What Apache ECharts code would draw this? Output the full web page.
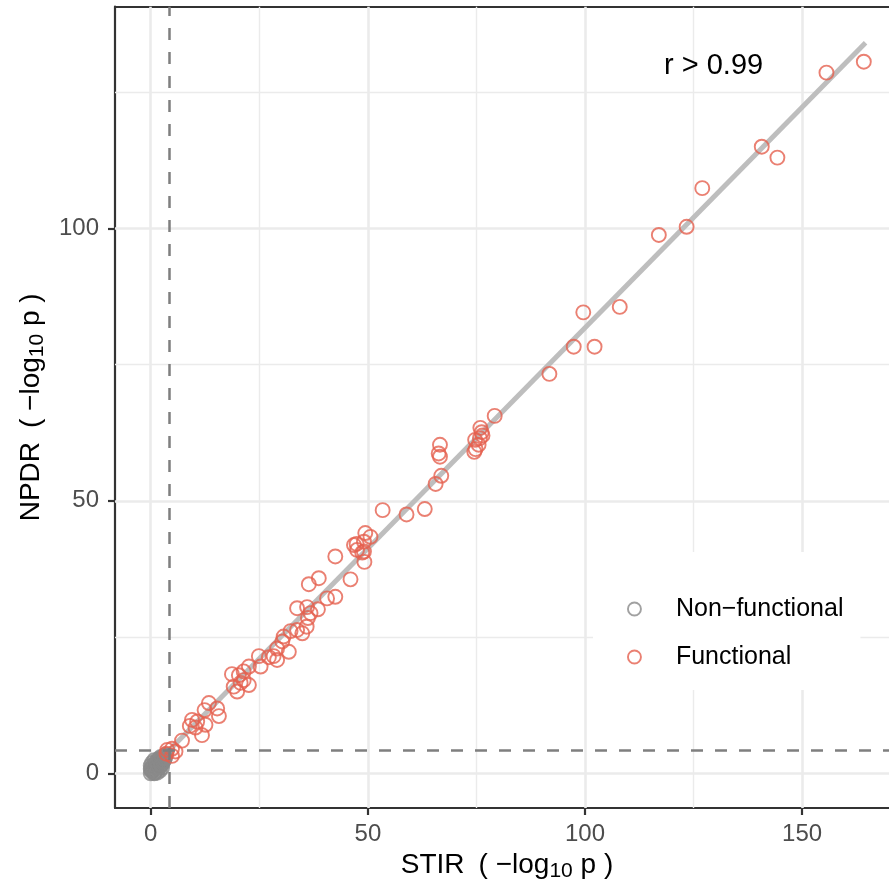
<!DOCTYPE html>
<html>
<head>
<meta charset="utf-8">
<script src="https://cdn.jsdelivr.net/npm/echarts@6/dist/echarts.min.js"></script>
<style>
html,body{margin:0;padding:0;background:#fff;}
#chart{width:889px;height:891px;}
</style>
</head>
<body>
<div id="chart"></div>
<script>
// ---- data ----
const seriesNames = ['Non\u2212functional', 'Functional'];
const nonFunctional = [
  [0.0,0.0],[0.8,0.0],[0.0,0.8],[0.3,0.3],[0.9,0.1],[0.1,0.6],[0.5,0.5],
  [1.5,0.1],[0.0,1.4],[0.7,0.7],[1.1,0.3],[0.3,1.1],[1.0,1.0],
  [2.1,0.5],[0.3,1.9],[1.2,1.2],[1.7,0.8],[0.7,1.6],[1.5,1.5],
  [2.6,1.0],[0.8,2.4],[1.7,1.7],[2.2,1.3],[1.2,2.1],[1.9,1.1],[1.4,1.9],[2.0,2.0],
  [2.7,1.8],[1.7,2.6],[2.2,2.2],[2.4,1.6],[2.0,2.5],[2.5,2.5],
  [3.1,2.4],[2.3,3.0],[2.7,2.7],[2.9,2.2],[2.5,2.9],[2.9,2.9],
  [3.1,3.1],[3.3,2.9],[3.2,2.7],[3.3,3.3],[3.5,3.4]
];
const functional = [
  [164.2,130.6],[155.6,128.6],[140.7,115.0],[144.3,113.0],[127.0,107.4],[123.4,100.3],[117.0,98.8],
  [108.0,85.6],[99.6,84.6],[97.4,78.3],[102.2,78.3],[91.8,73.3],
  [79.2,65.6],[75.9,63.4],[76.2,62.6],[76.4,62.0],[74.7,61.2],[75.8,61.5],[75.5,60.3],[74.8,59.5],[74.5,59.0],
  [66.6,60.3],[66.3,58.7],[66.6,58.1],[66.9,54.6],[65.6,53.1],[63.1,48.5],[58.9,47.5],[53.4,48.3],
  [49.4,44.1],[50.6,43.4],[49.1,42.5],[47.4,42.1],[46.8,41.9],[47.5,41.0],[49.1,40.7],[48.7,40.5],[49.2,38.8],
  [42.5,39.8],[46.0,35.6],[38.7,35.8],[36.4,34.7],[42.5,32.4],[40.6,32.1],
  [33.7,30.3],[36.0,30.5],[38.5,30.1],[36.8,29.4],[36.2,28.5],[35.9,26.9],[33.7,26.3],[34.9,25.7],
  [32.2,26.1],[30.6,25.1],[30.3,24.2],[31.8,22.3],[29.1,22.9],[28.3,21.5],[27.2,21.3],[29.1,20.8],
  [24.9,21.5],[25.3,19.6],[22.6,19.6],[21.4,18.7],[20.3,18.0],[18.7,18.2],
  [21.4,17.1],[19.1,15.9],[19.9,15.0],[22.6,16.2],[20.7,16.6],
  [13.4,12.9],[15.3,11.9],[15.7,10.5],[12.4,11.6],[9.5,9.8],[10.7,9.5],[9.0,8.7],[10.3,8.4],
  [11.8,7.0],[12.6,8.9],[7.2,6.0],
  [3.8,4.3],[4.9,4.5],[5.7,4.0],[4.9,3.2],[3.6,3.6]
];
const fitLine = [[0, 0.8], [164.6, 134.1]];
const threshold = 4.3;
const xTicks = [0, 50, 100, 150];
const xMinorGrid = [25, 75, 125];
const yTicks = [0, 50, 100];
const yMinorGrid = [25, 75, 125];
const annotation = 'r > 0.99';

// ---- chart ----
const FONT = '"Liberation Sans", Arial, Helvetica, sans-serif';
const RED = '#E5604F';
const GREY = '#8A8A8A';
const chart = echarts.init(document.getElementById('chart'), null, {renderer: 'canvas'});

const gridLines = [];
xTicks.forEach(v => gridLines.push({xAxis: v, lineStyle: {color: '#EBEBEB', width: 2.6, type: 'solid'}}));
xMinorGrid.forEach(v => gridLines.push({xAxis: v, lineStyle: {color: '#EBEBEB', width: 1.4, type: 'solid'}}));
yTicks.forEach(v => gridLines.push({yAxis: v, lineStyle: {color: '#EBEBEB', width: 2.6, type: 'solid'}}));
yMinorGrid.forEach(v => gridLines.push({yAxis: v, lineStyle: {color: '#EBEBEB', width: 1.4, type: 'solid'}}));

const nameRich = {
  a: {fontSize: 28, fontFamily: FONT, color: '#000', lineHeight: 34, verticalAlign: 'middle'},
  s: {fontSize: 21, fontFamily: FONT, color: '#000', lineHeight: 21, verticalAlign: 'bottom'}
};
const AX = {color: '#333333', width: 2.2};

const option = {
  animation: false,
  backgroundColor: '#ffffff',
  grid: {
    left: 115, top: 6.7, width: 774, height: 801.3,
    show: true, backgroundColor: '#ffffff', borderWidth: 0,
    containLabel: false
  },
  xAxis: [{
    type: 'value', min: -8.23, max: 170.0, position: 'bottom',
    axisLine: {show: true, onZero: false, lineStyle: AX},
    axisTick: {show: true, length: 7, customValues: xTicks, lineStyle: AX},
    axisLabel: {customValues: xTicks, color: '#4D4D4D', fontSize: 24, fontFamily: FONT, margin: 14},
    splitLine: {show: false},
    name: '{a|STIR\u2002( \u2212log}{s|10}{a| p )}',
    nameLocation: 'middle', nameGap: 40,
    nameTextStyle: {rich: nameRich, padding: [0, 0, 0, 10]}
  }, {
    type: 'value', min: -8.23, max: 170.0, position: 'top',
    axisLine: {show: true, onZero: false, lineStyle: AX},
    axisTick: {show: false}, axisLabel: {show: false}, splitLine: {show: false}
  }],
  yAxis: {
    type: 'value', min: -6.37, max: 140.7,
    axisLine: {show: true, onZero: false, lineStyle: AX},
    axisTick: {show: true, length: 7, customValues: yTicks, lineStyle: AX},
    axisLabel: {customValues: yTicks, color: '#4D4D4D', fontSize: 24, fontFamily: FONT, margin: 16},
    splitLine: {show: false},
    name: '{a|NPDR\u2002( \u2212log}{s|10}{a| p )}',
    nameLocation: 'middle', nameGap: 67, nameRotate: 90,
    nameTextStyle: {rich: nameRich}
  },
  legend: {
    data: [
      {name: seriesNames[0], icon: 'circle', itemStyle: {color: 'rgba(0,0,0,0)', borderColor: GREY, borderWidth: 1.9}},
      {name: seriesNames[1], icon: 'circle', itemStyle: {color: 'rgba(0,0,0,0)', borderColor: RED, borderWidth: 1.9}}
    ],
    orient: 'vertical',
    left: 593, top: 552,
    padding: [42, 17, 18, 34],
    itemWidth: 13, itemHeight: 13, itemGap: 18,
    backgroundColor: '#ffffff',
    textStyle: {fontSize: 25, fontFamily: FONT, color: '#000', lineHeight: 30, padding: [0, 0, 0, 30]},
    selectedMode: false
  },
  graphic: [{
    type: 'text', left: 664, top: 51, z: 10,
    style: {text: annotation, fontSize: 29, fontFamily: FONT, fill: '#000'}
  }],
  series: [
    {
      type: 'scatter', name: '_grid', data: [], z: 1, silent: true,
      markLine: {silent: true, symbol: ['none', 'none'], z: 1, label: {show: false}, data: gridLines, animation: false}
    },
    {
      type: 'line', name: '_fit', data: fitLine, z: 2, silent: true,
      symbol: 'none', lineStyle: {color: '#BEBEBE', width: 5}
    },
    {
      type: 'scatter', name: seriesNames[0], data: nonFunctional, z: 3,
      symbol: 'circle', symbolSize: 14,
      itemStyle: {color: 'rgba(0,0,0,0)', borderColor: GREY, borderWidth: 1.9}
    },
    {
      type: 'scatter', name: seriesNames[1], data: functional, z: 3,
      symbol: 'circle', symbolSize: 14,
      itemStyle: {color: 'rgba(0,0,0,0)', borderColor: RED, borderWidth: 1.9}
    },
    {
      type: 'scatter', name: '_thr', data: [], z: 4, silent: true,
      markLine: {
        silent: true, symbol: ['none', 'none'], z: 4, label: {show: false}, animation: false,
        lineStyle: {color: '#7F7F7F', width: 2.5, type: [12, 12]},
        data: [{xAxis: threshold}, {yAxis: threshold}]
      }
    }
  ]
};
chart.setOption(option);
</script>
</body>
</html>
